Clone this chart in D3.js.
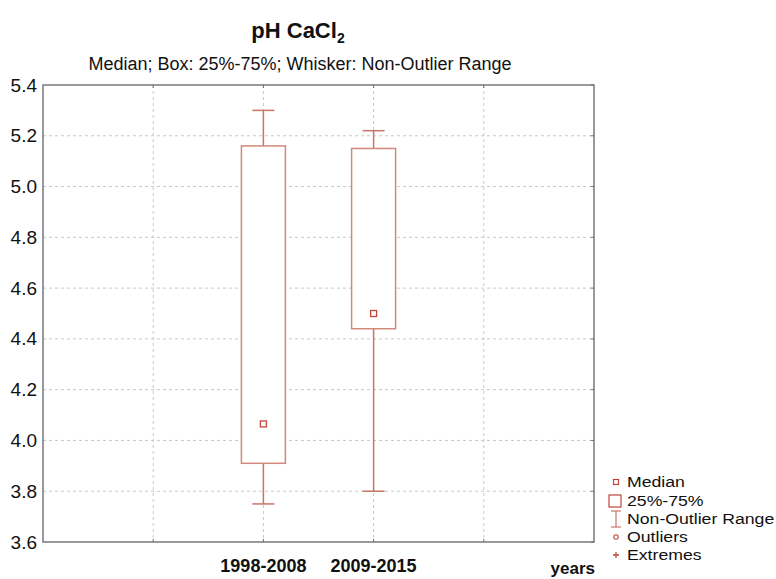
<!DOCTYPE html>
<html><head><meta charset="utf-8">
<script src="https://cdn.jsdelivr.net/npm/d3@7/dist/d3.min.js"></script>
<style>body{margin:0;background:#fff;} svg{display:block;font-family:"Liberation Sans",Arial,sans-serif;}</style>
</head><body>
<script>
const categories = ["1998-2008", "2009-2015"];
const medians = [4.065, 4.50];
const q1 = [3.91, 4.44];
const q3 = [5.16, 5.15];
const whiskerLow = [3.75, 3.80];
const whiskerHigh = [5.30, 5.22];
const yTicks = [3.6, 3.8, 4.0, 4.2, 4.4, 4.6, 4.8, 5.0, 5.2, 5.4];
const legendItems = ["Median", "25%-75%", "Non-Outlier Range", "Outliers", "Extremes"];

const W = 776, H = 579;
const svg = d3.select("body").append("svg").attr("width", W).attr("height", H);
const L = 43, R = 594, T = 85, B = 542;
const x = d3.scaleLinear().domain([0, 5]).range([L, R]);
const catPos = [2, 3];
const y = d3.scaleLinear().domain([3.6, 5.4]).range([B, T]);
const boxCol = "#d0897b", whiskCol = "#c87565", medCol = "#c0473a";

// grid
const g = svg.append("g");
g.selectAll(".gy").data(yTicks.slice(1, -1)).join("line")
  .attr("x1", L).attr("x2", R).attr("y1", d => y(d)).attr("y2", d => y(d))
  .attr("stroke", "#c8c8c8").attr("stroke-dasharray", "3,3");
g.selectAll(".gx").data([1, 2, 3, 4]).join("line")
  .attr("y1", T).attr("y2", B).attr("x1", d => x(d)).attr("x2", d => x(d))
  .attr("stroke", "#c8c8c8").attr("stroke-dasharray", "3,3");

// frame
svg.append("rect").attr("x", L).attr("y", T).attr("width", R - L).attr("height", B - T)
  .attr("fill", "none").attr("stroke", "#6e6e78").attr("stroke-width", 1.4);

// y axis
const yAxis = d3.axisLeft(y).tickValues(yTicks).tickFormat(d3.format(".1f")).tickSize(0).tickPadding(6);
svg.append("g").attr("transform", `translate(${L},0)`).call(yAxis)
  .call(s => s.select(".domain").remove())
  .call(s => s.selectAll("text").attr("font-size", 19).attr("fill", "#111").attr("font-family", "Liberation Sans, Arial, sans-serif"));
// inner ticks right / top / bottom
svg.append("g").selectAll("line").data(yTicks).join("line")
  .attr("x1", R - 3).attr("x2", R).attr("y1", d => y(d)).attr("y2", d => y(d)).attr("stroke", "#6e6e78");
svg.append("g").selectAll("line").data([1, 2, 3, 4]).join("line")
  .attr("x1", d => x(d)).attr("x2", d => x(d)).attr("y1", T).attr("y2", T + 3).attr("stroke", "#6e6e78");
svg.append("g").selectAll("line").data([1, 2, 3, 4]).join("line")
  .attr("x1", d => x(d)).attr("x2", d => x(d)).attr("y1", B - 3).attr("y2", B).attr("stroke", "#6e6e78");

// x labels
svg.append("g").selectAll("text").data(categories).join("text")
  .attr("x", (d, i) => x(catPos[i])).attr("y", 572).attr("text-anchor", "middle")
  .attr("font-size", 18).attr("font-weight", "bold").attr("fill", "#111").text(d => d);
svg.append("text").attr("x", 595).attr("y", 574).attr("text-anchor", "end")
  .attr("font-size", 17).attr("font-weight", "bold").attr("fill", "#111").text("years");

// boxes
const bw = 44, cw = 22;
const boxes = svg.append("g");
categories.forEach((c, i) => {
  const cx = x(catPos[i]);
  boxes.append("line").attr("x1", cx).attr("x2", cx).attr("y1", y(whiskerHigh[i])).attr("y2", y(q3[i])).attr("stroke", whiskCol).attr("stroke-width", 1.5);
  boxes.append("line").attr("x1", cx).attr("x2", cx).attr("y1", y(q1[i])).attr("y2", y(whiskerLow[i])).attr("stroke", whiskCol).attr("stroke-width", 1.5);
  boxes.append("line").attr("x1", cx - cw / 2).attr("x2", cx + cw / 2).attr("y1", y(whiskerHigh[i])).attr("y2", y(whiskerHigh[i])).attr("stroke", whiskCol).attr("stroke-width", 1.5);
  boxes.append("line").attr("x1", cx - cw / 2).attr("x2", cx + cw / 2).attr("y1", y(whiskerLow[i])).attr("y2", y(whiskerLow[i])).attr("stroke", whiskCol).attr("stroke-width", 1.5);
  boxes.append("rect").attr("x", cx - bw / 2).attr("width", bw).attr("y", y(q3[i])).attr("height", y(q1[i]) - y(q3[i]))
    .attr("fill", "#fff").attr("stroke", boxCol).attr("stroke-width", 1.5);
  boxes.append("rect").attr("x", cx - 3).attr("y", y(medians[i]) - 3).attr("width", 6).attr("height", 6)
    .attr("fill", "#fff").attr("stroke", medCol).attr("stroke-width", 1.3);
});

// titles
const title = svg.append("text").attr("x", 298).attr("y", 38).attr("text-anchor", "middle")
  .attr("font-size", 22).attr("font-weight", "bold").attr("fill", "#111");
title.append("tspan").text("pH CaCl");
title.append("tspan").attr("font-size", 14).attr("dy", 5).text("2");
svg.append("text").attr("x", 300).attr("y", 70).attr("text-anchor", "middle")
  .attr("font-size", 18).attr("fill", "#111").text("Median; Box: 25%-75%; Whisker: Non-Outlier Range");

// legend
const lg = svg.append("g");
const ly = [482, 501, 519, 537, 555];
const lx = 616;
lg.append("g").attr("transform", "translate(627,0) scale(1.14,1)")
  .selectAll("text").data(legendItems).join("text")
  .attr("x", 0).attr("y", (d, i) => ly[i] + 5.5).attr("font-size", 15.5).attr("fill", "#111").text(d => d);
lg.append("rect").attr("x", lx - 2.5).attr("y", ly[0] - 2.5).attr("width", 5).attr("height", 5).attr("fill", "none").attr("stroke", medCol).attr("stroke-width", 1.2);
lg.append("rect").attr("x", 609).attr("y", 495).attr("width", 12).attr("height", 12).attr("fill", "none").attr("stroke", medCol).attr("stroke-width", 1.2);
lg.append("line").attr("x1", lx).attr("x2", lx).attr("y1", 511).attr("y2", 527).attr("stroke", whiskCol).attr("stroke-width", 1.2);
lg.append("line").attr("x1", lx - 5).attr("x2", lx + 5).attr("y1", 511).attr("y2", 511).attr("stroke", whiskCol).attr("stroke-width", 1.2);
lg.append("line").attr("x1", lx - 5).attr("x2", lx + 5).attr("y1", 527).attr("y2", 527).attr("stroke", whiskCol).attr("stroke-width", 1.2);
lg.append("circle").attr("cx", lx).attr("cy", ly[3]).attr("r", 2.2).attr("fill", "none").attr("stroke", medCol).attr("stroke-width", 1.1);
lg.append("path").attr("d", `M${lx - 3},${ly[4]}H${lx + 3}M${lx},${ly[4] - 3}V${ly[4] + 3}`).attr("stroke", medCol).attr("stroke-width", 1.3);
</script>
</body></html>
